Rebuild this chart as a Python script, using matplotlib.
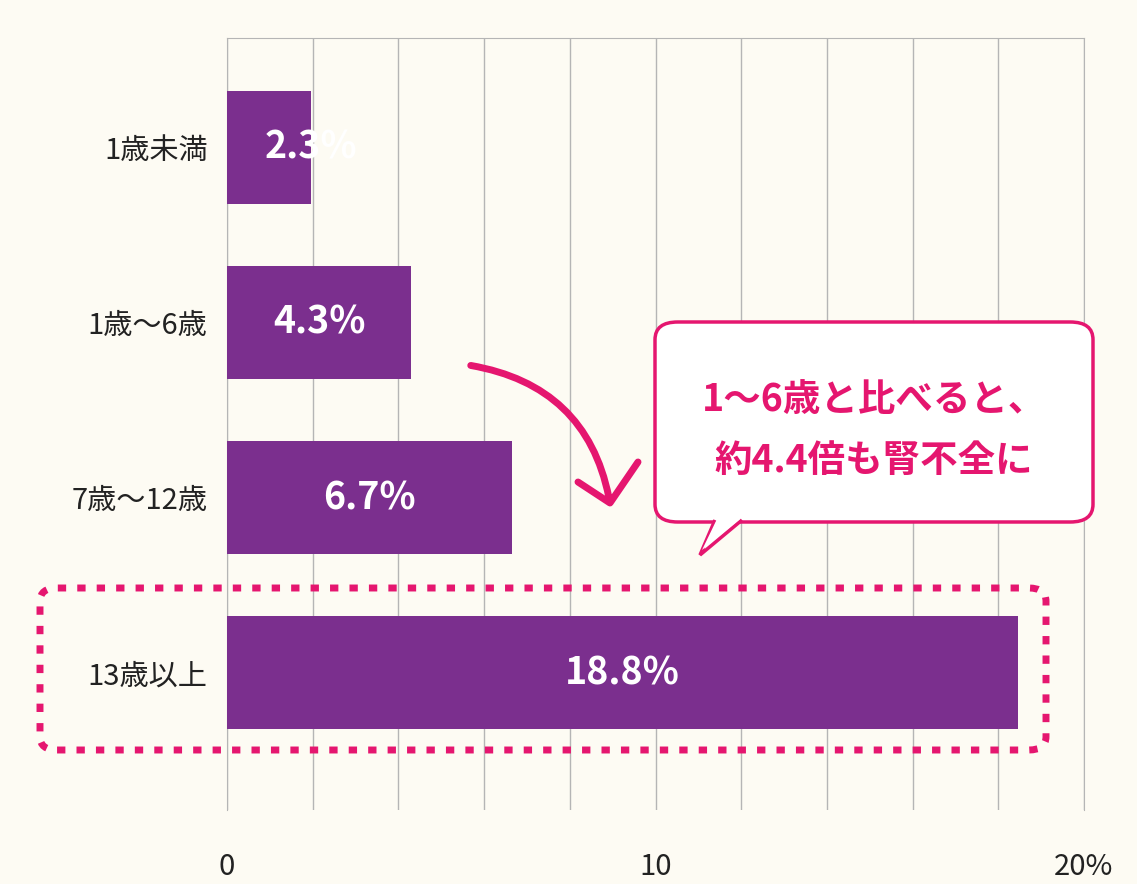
import matplotlib
matplotlib.use("Agg")
import matplotlib.pyplot as plt
from matplotlib.patches import FancyBboxPatch, Polygon, FancyArrowPatch

plt.rcParams['font.family'] = ['Noto Sans CJK JP', 'DejaVu Sans']

categories = ['1歳未満', '1歳〜6歳', '7歳〜12歳', '13歳以上']
bar_lengths = [1.95, 4.3, 6.65, 18.45]
value_labels = ['2.3%', '4.3%', '6.7%', '18.8%']
tick_vals = [0, 10, 20]
tick_labels = ['0', '10', '20%']

W, H = 1137, 884
bg = '#fdfbf3'
purple = '#7b2f8e'
pink = '#e5166f'

fig = plt.figure(figsize=(W/100, H/100), dpi=100, facecolor=bg)
ax = fig.add_axes([227/W, 1-810/H, (1084-227)/W, (810-38)/H])
ax.set_facecolor(bg)
ys = list(range(len(categories)))
ax.barh(ys, bar_lengths, height=0.646, color=purple, zorder=3)
ax.set_xlim(0, 20)
ax.set_ylim(3.783, -0.623)
for x in range(0, 21, 2):
    ax.axvline(x, color='#b5b5b5', lw=1, zorder=1)
for s in ax.spines.values():
    s.set_color('#b5b5b5')
ax.spines['bottom'].set_visible(False)
ax.set_yticks(ys)
ax.set_yticklabels(categories, fontsize=21, color='#222222')
ax.set_xticks(tick_vals)
ax.set_xticklabels(tick_labels, fontsize=21, color='#222222')
ax.tick_params(length=0, pad=14)
ax.tick_params(axis='x', pad=30)
for y, L, t in zip(ys, bar_lengths, value_labels):
    ax.text(max(L/2, 1.95), y, t, color='white', fontsize=27, fontweight='bold',
            ha='center', va='center', zorder=4)

def fx(px): return px/W
def fy(py): return 1-py/H

# dotted highlight box
box = FancyBboxPatch((fx(40), fy(750)), fx(1046)-fx(40), fy(588)-fy(750),
                     boxstyle='round,pad=0,rounding_size=0.015', transform=fig.transFigure,
                     fill=False, ec=pink, lw=5, ls=(0, (1.2, 1.6)), zorder=5)
fig.add_artist(box)

# speech bubble
bub = FancyBboxPatch((fx(655), fy(522)), fx(1093)-fx(655), fy(322)-fy(522),
                     boxstyle='round,pad=0,rounding_size=0.02', transform=fig.transFigure,
                     fc='white', ec=pink, lw=2.5, zorder=5)
fig.add_artist(bub)
tail = Polygon([(fx(715), fy(520)), (fx(700), fy(555)), (fx(742), fy(520))],
               closed=False, transform=fig.transFigure, fc='white', ec=pink, lw=2.5, zorder=6)
fig.add_artist(tail)
fig.add_artist(Polygon([(fx(717), fy(519)), (fx(740), fy(519)), (fx(702), fy(550))],
               transform=fig.transFigure, fc='white', ec='none', zorder=7))
fig.text(fx(874), fy(400), '1〜6歳と比べると、', color=pink, fontsize=27, fontweight='bold',
         ha='center', va='center', zorder=8)
fig.text(fx(874), fy(460), '約4.4倍も腎不全に', color=pink, fontsize=27, fontweight='bold',
         ha='center', va='center', zorder=8)

# curved arrow
arr = FancyArrowPatch((fx(468), fy(365)), (fx(610), fy(503)), transform=fig.transFigure,
                      connectionstyle='arc3,rad=-0.35', arrowstyle='-|>,head_length=0', color=pink,
                      lw=5, zorder=8)
fig.add_artist(arr)
fig.add_artist(plt.Line2D([fx(578), fx(610), fx(638)], [fy(482), fy(503), fy(462)],
               transform=fig.transFigure, color=pink, lw=5, solid_capstyle='round', zorder=8))

fig.savefig('out.png', dpi=100, facecolor=bg)
